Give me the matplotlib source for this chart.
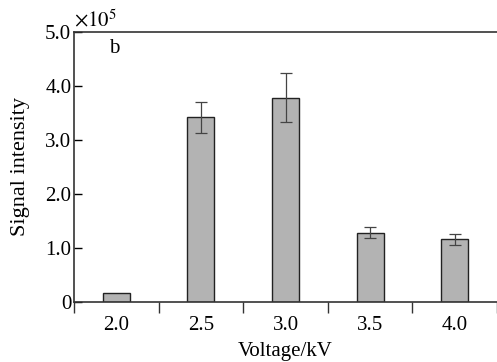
import matplotlib
matplotlib.use("Agg")
import matplotlib.pyplot as plt
import numpy as np

voltages = ["2.0", "2.5", "3.0", "3.5", "4.0"]
signal = [0.17, 3.42, 3.78, 1.28, 1.16]      # x 1e5
errors = [0.0, 0.29, 0.45, 0.10, 0.105]

plt.rcParams["font.family"] = ["Liberation Serif", "DejaVu Serif"]
plt.rcParams["mathtext.fontset"] = "stix"

fig = plt.figure(figsize=(4.97, 3.62), dpi=100)
ax = fig.add_axes([0.149, 0.166, 0.851, 0.746])

pos = np.arange(len(voltages)) + 0.5
ax.bar(pos, signal, width=0.32, color="#b3b3b3", edgecolor="#222222", linewidth=1.0, zorder=2)
for x, v, e in zip(pos, signal, errors):
    if e > 0:
        ax.errorbar(x, v, yerr=e, fmt="none", ecolor="#444444", elinewidth=0.9,
                    capsize=4, capthick=0.9, zorder=3)

ax.set_xlim(0, 5)
ax.set_ylim(0, 5)
ax.set_xticks(np.arange(0, 6))
ax.set_xticklabels([])
ax.set_xticks(pos, minor=True)
ax.set_xticklabels(voltages, minor=True)
ax.tick_params(axis="x", which="major", direction="out", length=8, width=1.0, color="#333333")
ax.tick_params(axis="x", which="minor", length=0, pad=10, labelsize=15)
ax.set_yticks([0, 1, 2, 3, 4, 5])
ax.set_yticklabels(["0", "1.0", "2.0", "3.0", "4.0", "5.0"])
ax.tick_params(axis="y", direction="in", length=6, width=1.0, labelsize=15, pad=2)

for s in ("left", "bottom", "top"):
    ax.spines[s].set_linewidth(1.2)
    ax.spines[s].set_color("#333333")
ax.spines["right"].set_visible(False)

ax.set_xlabel("Voltage/kV", fontsize=15, labelpad=5)
ax.set_ylabel("Signal intensity", fontsize=16, labelpad=11)
ax.text(0.095, 0.94, "b", transform=ax.transAxes, fontsize=15, va="center", ha="center")
ax.text(0.0, 1.0, r"$\times\mathrm{10}^{5}$", transform=ax.transAxes, fontsize=15,
        va="bottom", ha="left")

fig.savefig("out.png", dpi=100)
